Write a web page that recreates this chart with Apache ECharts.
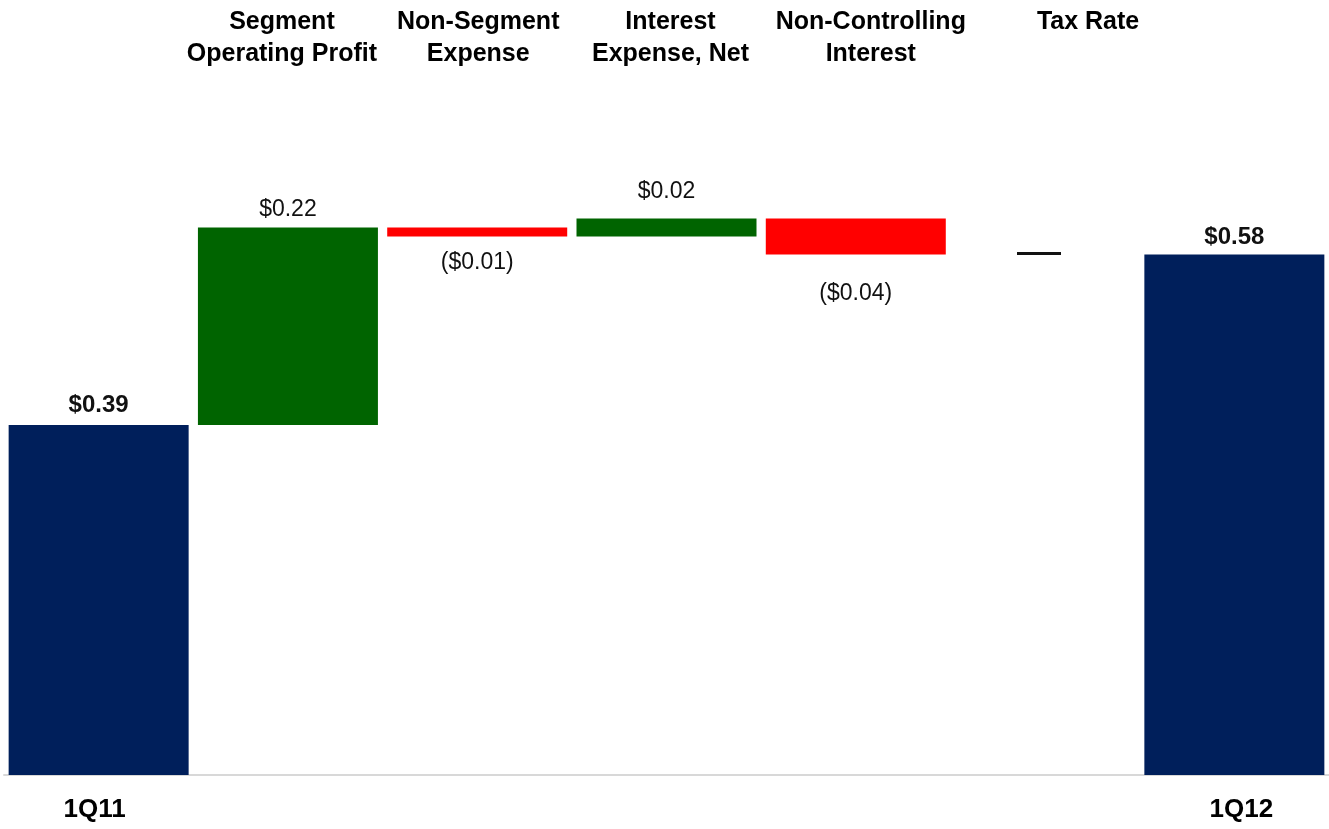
<!DOCTYPE html>
<html>
<head>
<meta charset="utf-8">
<script src="https://cdn.jsdelivr.net/npm/echarts@6/dist/echarts.min.js"></script>
<style>
  html, body { margin: 0; padding: 0; background: #fff; }
  #chart { width: 1329px; height: 829px; }
</style>
</head>
<body>
<div id="chart"></div>
<script>
// EPS bridge 1Q11 -> 1Q12
var categories = ['1Q11', 'Segment\nOperating Profit', 'Non-Segment\nExpense', 'Interest\nExpense, Net', 'Non-Controlling\nInterest', 'Tax Rate', '1Q12'];
var changes = [0.39, 0.22, -0.01, 0.02, -0.04, 0, 0.58];
var isTotal = [true, false, false, false, false, false, true];
var topLabels = ['', 'Segment\nOperating Profit', 'Non-Segment\nExpense', 'Interest\nExpense, Net', 'Non-Controlling\nInterest', 'Tax Rate\n ', ''];

// style only: label gaps and horizontal nudges of the axis labels
var labelGaps = [8, 6, 15, 15, 28, 0, 5];
var headShift = [0, -6, 1, 4, 15, 43, 0];
var footShift = [-4, 0, 0, 0, 0, 0, 7];

var NAVY = '#001f5b', GREEN = '#006400', RED = '#ff0000';

var running = 0;
var baseData = [], valData = [];
changes.forEach(function (v, i) {
    var base, col;
    if (isTotal[i]) {
        base = 0;
        running = v;
        col = NAVY;
    } else {
        base = v >= 0 ? running : running + v;
        running = running + v;
        col = v >= 0 ? GREEN : RED;
    }
    baseData.push(base);
    var item = { value: Math.abs(v), itemStyle: { color: col } };
    if (isTotal[i]) {
        item.label = { show: true, position: 'top', distance: labelGaps[i], fontWeight: 'bold', fontSize: 24, color: '#111',
            formatter: '$' + v.toFixed(2) };
    } else if (v === 0) {
        item.label = { show: true, position: 'inside', fontSize: 44, color: '#111', offset: [-6, -2], formatter: '\u2014' };
    } else {
        item.label = { show: true, position: v > 0 ? 'top' : 'bottom', distance: labelGaps[i], fontSize: 23, color: '#111',
            formatter: v > 0 ? '$' + v.toFixed(2) : '($' + Math.abs(v).toFixed(2) + ')' };
    }
    valData.push(item);
});

function shiftPad(s) {
    return s >= 0 ? [0, 0, 0, 2 * s] : [0, -2 * s, 0, 0];
}

var headRich = {}, footRich = {};
headShift.forEach(function (s, i) {
    headRich['h' + i] = { fontSize: 25, fontWeight: 'bold', color: '#000', lineHeight: 32, padding: shiftPad(s) };
});
footShift.forEach(function (s, i) {
    footRich['f' + i] = { fontSize: 26, fontWeight: 'bold', color: '#000', padding: shiftPad(s) };
});

var chart = echarts.init(document.getElementById('chart'));
chart.setOption({
    animation: false,
    textStyle: { fontFamily: 'Liberation Sans, Arial, sans-serif' },
    grid: { left: 4, right: 0, top: 57, bottom: 54 },
    xAxis: [{
        type: 'category',
        data: categories,
        axisLine: { lineStyle: { color: '#d8d8d8', width: 2 } },
        axisTick: { show: false },
        axisLabel: {
            margin: 22, rich: footRich,
            formatter: function (v, i) { return isTotal[i] ? '{f' + i + '|' + v + '}' : ''; }
        }
    }, {
        type: 'category',
        position: 'top',
        data: topLabels,
        axisLine: { show: false },
        axisTick: { show: false },
        axisLabel: {
            margin: 51, verticalAlign: 'top', fontSize: 25, fontWeight: 'bold', color: '#000',
            lineHeight: 32, interval: 0, rich: headRich,
            formatter: function (v, i) {
                return v.split('\n').map(function (l) { return '{h' + i + '|' + l + '}'; }).join('\n');
            }
        }
    }],
    yAxis: {
        type: 'value', min: 0, max: 0.8,
        show: false, splitLine: { show: false }
    },
    series: [{
        type: 'bar', stack: 'w', barWidth: 180,
        itemStyle: { color: 'transparent' },
        silent: true,
        data: baseData
    }, {
        type: 'bar', stack: 'w', barWidth: 180,
        data: valData
    }]
});
</script>
</body>
</html>
